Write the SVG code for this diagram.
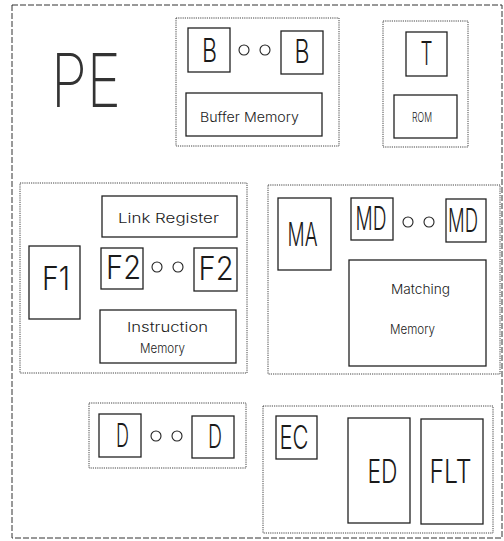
<svg xmlns="http://www.w3.org/2000/svg" width="504" height="541" viewBox="0 0 504 541">
<style>
.bg{fill:#fff}
.outer{fill:none;stroke:#333;stroke-width:1;stroke-dasharray:6 2}
.grp{fill:none;stroke:#444;stroke-width:1;stroke-dasharray:1.2 1}
.box{fill:none;stroke:#222;stroke-width:1.3}
.dot{fill:none;stroke:#222;stroke-width:1.1}
.big{font-family:Inter,"Liberation Sans",Arial,sans-serif;font-weight:300;font-size:32px;fill:#1a1a1a;text-anchor:middle}
.sm{font-family:Inter,"Liberation Sans",Arial,sans-serif;font-weight:300;font-size:13px;fill:#1a1a1a}
.pe{font-family:Inter,"Liberation Sans",Arial,sans-serif;font-weight:200;font-size:74px;fill:#333}
</style>
<rect class="bg" width="504" height="541"/>
<rect class="outer" x="12" y="5" width="490" height="533"/>
<text class="pe" x="51" y="107" textLength="70" lengthAdjust="spacingAndGlyphs">PE</text>
<g id="connectors"/>
<g id="buffer-group">
<rect class="grp" x="176" y="18" width="163" height="128"/>
<g id="B1"><rect class="box" x="188" y="28" width="42" height="44"/><text class="big" x="209.5" y="62" textLength="15" lengthAdjust="spacingAndGlyphs">B</text></g>
<circle class="dot" cx="244" cy="50" r="5"/><circle class="dot" cx="265" cy="50" r="5"/>
<g id="B2"><rect class="box" x="281" y="31" width="42" height="43"/><text class="big" x="302" y="63" textLength="15" lengthAdjust="spacingAndGlyphs">B</text></g>
<g id="buffer-memory"><rect class="box" x="186" y="93" width="136" height="43"/><text class="sm" x="200" y="122" textLength="99" lengthAdjust="spacingAndGlyphs">Buffer Memory</text></g>
</g>
<g id="t-group">
<rect class="grp" x="383" y="21" width="85" height="126"/>
<g id="T"><rect class="box" x="406" y="32" width="41" height="44"/><text class="big" x="426.5" y="65" textLength="12" lengthAdjust="spacingAndGlyphs">T</text></g>
<g id="ROM"><rect class="box" x="394" y="95" width="63" height="43"/><text class="sm" x="412" y="122" textLength="20" lengthAdjust="spacingAndGlyphs">ROM</text></g>
</g>
<g id="fetch-group">
<rect class="grp" x="20" y="183" width="227" height="190"/>
<g id="link-register"><rect class="box" x="102" y="196" width="135" height="41"/><text class="sm" x="118" y="223" textLength="101" lengthAdjust="spacingAndGlyphs">Link Register</text></g>
<g id="F1"><rect class="box" x="29" y="246" width="51" height="73"/><text class="big" x="56" y="290" textLength="28" lengthAdjust="spacingAndGlyphs">F1</text></g>
<g id="F2a"><rect class="box" x="101" y="248" width="42" height="41"/><text class="big" x="123.5" y="279" textLength="35" lengthAdjust="spacingAndGlyphs">F2</text></g>
<circle class="dot" cx="157" cy="267" r="5"/><circle class="dot" cx="178" cy="267" r="5"/>
<g id="F2b"><rect class="box" x="194" y="248" width="43" height="43"/><text class="big" x="216" y="280" textLength="35" lengthAdjust="spacingAndGlyphs">F2</text></g>
<g id="instruction-memory"><rect class="box" x="100" y="310" width="136" height="53"/><text class="sm" x="127" y="332" textLength="81" lengthAdjust="spacingAndGlyphs">Instruction</text><text class="sm" x="140" y="353" textLength="45" lengthAdjust="spacingAndGlyphs">Memory</text></g>
</g>
<g id="matching-group">
<rect class="grp" x="268" y="185" width="232" height="189"/>
<g id="MA"><rect class="box" x="278" y="198" width="53" height="72"/><text class="big" x="302.5" y="246" textLength="30" lengthAdjust="spacingAndGlyphs">MA</text></g>
<g id="MD1"><rect class="box" x="351" y="198" width="42" height="42"/><text class="big" x="371" y="230" textLength="31" lengthAdjust="spacingAndGlyphs">MD</text></g>
<circle class="dot" cx="408" cy="222" r="5"/><circle class="dot" cx="429" cy="222" r="5"/>
<g id="MD2"><rect class="box" x="446" y="199" width="40" height="43"/><text class="big" x="463" y="232" textLength="30" lengthAdjust="spacingAndGlyphs">MD</text></g>
<g id="matching-memory"><rect class="box" x="349" y="260" width="137" height="106"/><text class="sm" x="391" y="294" textLength="59" lengthAdjust="spacingAndGlyphs">Matching</text><text class="sm" x="390" y="334" textLength="45" lengthAdjust="spacingAndGlyphs">Memory</text></g>
</g>
<g id="d-group">
<rect class="grp" x="89" y="403" width="157" height="65"/>
<g id="D1"><rect class="box" x="99" y="414" width="42" height="43"/><text class="big" x="122.5" y="447" textLength="13" lengthAdjust="spacingAndGlyphs">D</text></g>
<circle class="dot" cx="156" cy="436" r="5"/><circle class="dot" cx="177" cy="436" r="5"/>
<g id="D2"><rect class="box" x="192" y="416" width="42" height="42"/><text class="big" x="215" y="448" textLength="14" lengthAdjust="spacingAndGlyphs">D</text></g>
</g>
<g id="e-group">
<rect class="grp" x="263" y="406" width="230" height="127"/>
<g id="EC"><rect class="box" x="276" y="416" width="41" height="43"/><text class="big" x="294" y="449" textLength="29" lengthAdjust="spacingAndGlyphs">EC</text></g>
<g id="ED"><rect class="box" x="348" y="418" width="62" height="105"/><text class="big" x="382.5" y="483" textLength="30" lengthAdjust="spacingAndGlyphs">ED</text></g>
<g id="FLT"><rect class="box" x="421" y="419" width="62" height="105"/><text class="big" x="450.5" y="483" textLength="42" lengthAdjust="spacingAndGlyphs">FLT</text></g>
</g>
</svg>
